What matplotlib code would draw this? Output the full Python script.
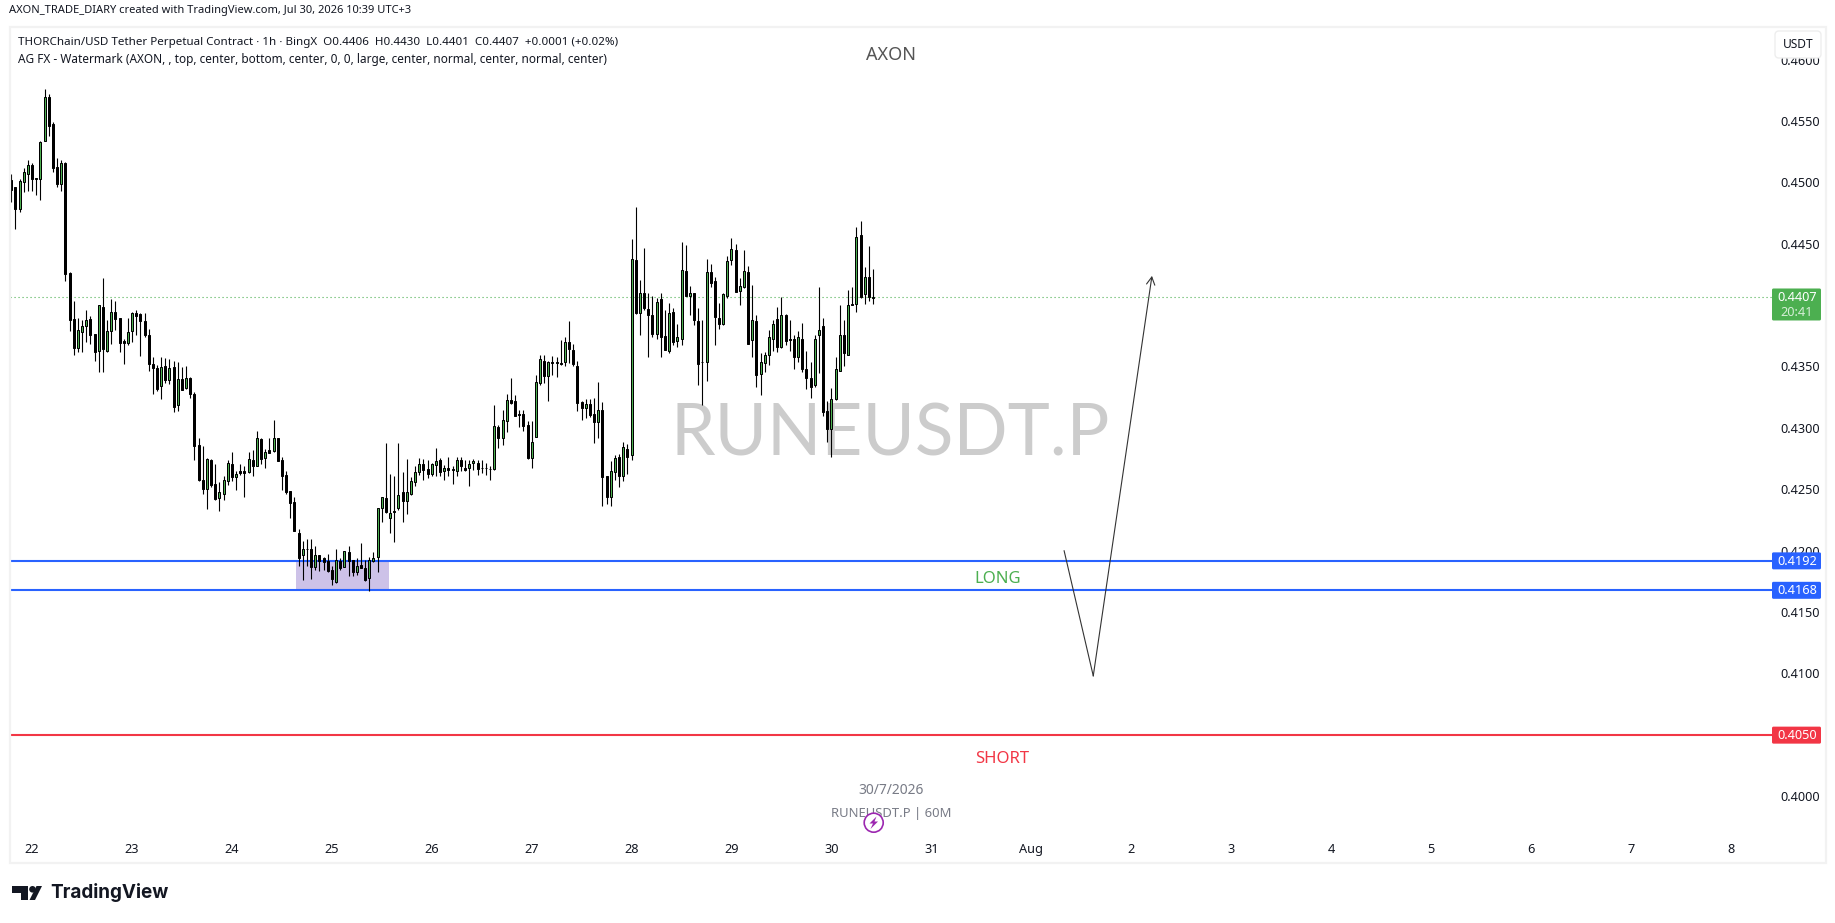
import matplotlib
matplotlib.use("Agg")
import matplotlib.pyplot as plt
from matplotlib.patches import Rectangle, FancyBboxPatch, Circle, Polygon
from matplotlib.transforms import ScaledTranslation

W, H = 1835, 923

# Prices in units of 0.0001 USDT, one entry per hourly candle
opens = [
4502.4,4496.4,4479.0,4501.0,4507.5,4514.3,4503.7,4503.5,4533.9,4569.7,
4547.7,4512.7,4499.4,4516.0,4426.6,4388.8,4365.8,4378.8,4383.7,4388.8,
4376.6,4363.3,4398.6,4363.3,4379.6,4394.5,4389.7,4371.2,4369.8,4379.6,
4393.7,4392.9,4387.2,4375.8,4352.4,4348.9,4334.3,4350.5,4339.7,4349.7,
4318.8,4340.0,4332.6,4340.8,4328.0,4286.2,4257.7,4250.9,4274.2,4254.4,
4243.5,4246.8,4257.4,4270.7,4260.6,4265.0,4265.0,4264.7,4274.0,4269.6,
4291.3,4276.1,4282.4,4281.6,4291.9,4274.0,4261.7,4248.7,4239.7,4214.6,
4196.4,4201.6,4201.6,4186.6,4196.7,4194.2,4192.1,4184.5,4175.0,4192.1,
4186.6,4199.4,4192.6,4182.6,4188.5,4186.1,4177.7,4191.8,4194.8,4234.7,
4243.1,4227.1,4232.5,4234.7,4248.3,4240.4,4246.7,4255.9,4264.6,4271.1,
4266.8,4262.4,4269.8,4274.4,4264.9,4267.6,4266.8,4264.9,4274.1,4267.8,
4267.3,4271.4,4271.7,4267.6,4267.6,4267.0,4266.5,4301.3,4291.8,4305.9,
4323.0,4322.2,4311.6,4311.6,4302.6,4275.5,4293.3,4337.3,4354.7,4343.0,
4353.9,4353.9,4353.3,4353.9,4370.2,4363.7,4350.6,4321.3,4316.9,4319.7,
4311.8,4305.5,4314.8,4261.0,4243.9,4264.8,4276.5,4260.8,4283.0,4277.9,
4437.0,4393.6,4410.2,4397.1,4392.2,4376.5,4405.3,4375.4,4362.9,4394.9,
4370.8,4372.4,4428.1,4407.4,4410.2,4387.3,4353.9,4353.7,4427.5,4419.9,
4389.8,4384.6,4407.4,4436.8,4445.2,4411.5,4415.0,4427.3,4371.9,4387.3,
4343.9,4353.1,4359.4,4372.7,4389.0,4365.9,4392.2,4372.7,4372.7,4358.5,
4372.7,4348.2,4341.2,4334.9,4375.7,4383.3,4314.0,4299.1,4323.8,4346.6,
4375.9,4359.6,4400.9,4400.9,4457.4,4409.1,4423.2,4406.0]
closes = [
4494.2,4479.0,4501.3,4508.6,4514.3,4503.5,4503.2,4533.3,4569.7,4546.6,
4512.4,4499.4,4516.5,4426.1,4388.6,4365.8,4379.9,4383.1,4388.0,4376.3,
4362.5,4400.3,4364.9,4379.1,4394.5,4389.4,4369.8,4369.8,4378.2,4393.7,
4391.8,4387.8,4376.1,4352.7,4349.5,4332.4,4349.7,4339.7,4348.9,4317.7,
4340.0,4331.5,4340.8,4328.3,4285.9,4257.9,4250.9,4275.0,4253.9,4242.7,
4247.9,4257.7,4271.5,4260.4,4262.6,4263.6,4263.6,4274.8,4269.6,4291.9,
4275.3,4280.7,4280.2,4291.9,4273.7,4261.5,4248.4,4239.5,4216.5,4194.0,
4201.6,4201.3,4186.6,4196.7,4192.1,4190.7,4183.4,4176.9,4192.6,4186.4,
4199.7,4191.5,4182.6,4187.7,4185.8,4176.6,4192.3,4194.2,4235.0,4243.9,
4231.5,4230.9,4231.5,4245.6,4240.4,4248.0,4257.0,4264.3,4270.8,4265.7,
4262.4,4270.8,4273.3,4264.0,4267.6,4265.7,4266.2,4274.1,4268.9,4265.7,
4270.8,4273.3,4266.5,4267.3,4267.3,4266.8,4301.8,4291.8,4306.4,4323.0,
4320.8,4309.7,4310.5,4301.5,4276.0,4288.8,4337.6,4356.3,4343.0,4353.9,
4353.6,4353.1,4352.8,4370.2,4365.0,4352.0,4321.0,4316.9,4319.7,4311.0,
4305.5,4314.8,4260.7,4243.7,4265.1,4275.7,4260.8,4284.7,4276.5,4437.9,
4393.6,4410.2,4397.9,4392.0,4376.5,4402.8,4374.8,4363.4,4393.9,4370.0,
4374.3,4428.9,4407.4,4410.2,4387.9,4352.8,4353.7,4427.3,4418.8,4391.1,
4384.6,4409.3,4436.2,4446.0,4410.7,4415.9,4428.1,4368.3,4388.2,4343.1,
4353.9,4359.6,4374.3,4384.9,4365.9,4392.2,4370.8,4371.6,4357.7,4374.3,
4348.2,4340.6,4333.8,4372.7,4380.0,4313.5,4299.1,4323.5,4348.2,4375.9,
4361.0,4400.4,4400.4,4455.8,4406.9,4423.2,4406.9,4407.0]
highs = [
4507.3,4496.9,4502.9,4511.9,4518.7,4516.0,4503.7,4533.9,4576.5,4572.4,
4549.4,4520.0,4518.7,4517.0,4427.4,4403.8,4390.2,4388.3,4396.4,4391.6,
4376.9,4400.5,4422.5,4388.3,4405.4,4403.8,4389.9,4372.5,4389.7,4394.5,
4396.4,4393.7,4393.7,4380.7,4357.9,4351.6,4358.2,4357.1,4356.3,4354.9,
4353.8,4350.3,4350.8,4341.6,4329.9,4291.9,4285.6,4275.6,4275.0,4270.7,
4256.3,4261.2,4274.2,4280.5,4265.5,4270.7,4269.3,4280.5,4282.4,4297.9,
4292.4,4282.9,4291.9,4306.8,4291.9,4276.9,4265.0,4249.0,4243.8,4217.9,
4208.4,4209.7,4210.0,4204.0,4197.0,4194.8,4197.5,4188.0,4201.9,4194.2,
4199.7,4203.8,4192.9,4194.2,4206.7,4192.9,4195.1,4199.1,4235.0,4243.9,
4287.9,4263.0,4260.8,4287.9,4264.6,4275.2,4260.2,4268.9,4275.5,4274.9,
4274.4,4271.7,4283.9,4275.7,4270.3,4276.5,4268.9,4276.5,4276.5,4274.4,
4274.4,4275.2,4273.8,4274.4,4271.7,4268.9,4319.2,4302.9,4315.1,4328.1,
4340.9,4326.8,4315.1,4315.1,4305.6,4305.6,4343.6,4359.9,4359.9,4355.0,
4359.0,4357.7,4372.1,4374.5,4387.6,4368.8,4355.0,4322.6,4324.0,4324.0,
4324.8,4337.9,4321.3,4261.3,4273.5,4278.4,4279.2,4288.7,4287.1,4454.2,
4480.2,4421.0,4446.8,4410.2,4407.4,4406.1,4410.2,4396.6,4402.0,4397.9,
4384.9,4451.4,4449.5,4415.6,4410.4,4397.9,4388.4,4437.9,4434.1,4422.9,
4402.0,4410.2,4440.0,4455.0,4450.1,4422.4,4445.5,4431.9,4416.9,4392.5,
4361.3,4361.8,4380.3,4388.4,4398.7,4406.9,4393.3,4388.4,4376.2,4378.9,
4385.7,4363.2,4353.9,4375.7,4415.0,4389.8,4321.9,4332.7,4358.0,4400.6,
4388.4,4412.3,4415.0,4463.9,4469.1,4431.6,4448.7,4430.0]
lows = [
4484.7,4462.7,4476.6,4492.9,4493.7,4493.7,4490.1,4486.1,4533.9,4538.5,
4509.2,4496.4,4493.7,4420.3,4379.6,4359.8,4362.2,4362.2,4370.6,4368.7,
4354.9,4346.2,4346.2,4362.2,4368.7,4380.2,4362.2,4352.4,4368.2,4370.4,
4376.1,4359.2,4374.7,4347.0,4328.0,4330.4,4323.9,4337.2,4335.9,4313.6,
4314.4,4331.3,4332.1,4325.0,4274.2,4257.1,4246.3,4234.6,4252.5,4241.6,
4232.9,4241.6,4254.1,4257.4,4249.8,4262.3,4244.4,4263.9,4261.5,4269.6,
4271.0,4267.7,4280.2,4281.0,4273.7,4249.8,4246.3,4227.0,4216.0,4187.5,
4176.0,4187.5,4177.4,4184.7,4183.9,4184.7,4183.1,4172.5,4173.9,4184.7,
4186.6,4179.3,4179.3,4180.1,4185.8,4175.5,4167.1,4190.7,4182.6,4223.3,
4230.9,4214.6,4207.0,4233.6,4223.3,4230.4,4245.8,4252.6,4262.1,4258.1,
4259.4,4260.8,4260.8,4261.3,4258.1,4260.8,4254.8,4260.8,4264.9,4264.9,
4253.2,4266.2,4262.1,4263.5,4262.1,4258.1,4266.2,4283.6,4286.6,4297.2,
4320.0,4309.7,4301.0,4297.5,4274.9,4267.8,4293.3,4335.4,4337.3,4322.4,
4343.6,4342.2,4351.2,4350.4,4353.1,4350.4,4314.5,4306.9,4308.8,4309.6,
4288.4,4291.7,4237.1,4238.5,4236.3,4257.5,4251.8,4256.7,4262.9,4273.8,
4393.3,4375.7,4396.6,4357.7,4374.8,4372.7,4358.5,4363.4,4361.3,4368.1,
4365.9,4368.1,4407.4,4392.5,4383.8,4334.9,4318.6,4338.2,4415.0,4367.5,
4380.8,4384.3,4405.8,4432.7,4410.7,4400.6,4414.2,4368.3,4358.5,4333.3,
4326.8,4345.8,4351.2,4362.6,4362.1,4365.3,4368.1,4362.6,4348.5,4353.7,
4345.8,4332.2,4325.1,4333.3,4345.0,4309.7,4288.5,4276.3,4323.2,4346.3,
4350.4,4359.6,4400.4,4394.4,4406.1,4401.5,4403.4,4401.0]
assert len(opens) == len(closes) == len(highs) == len(lows) == 208

price_ticks = [0.400, 0.405, 0.410, 0.415, 0.420, 0.425, 0.430, 0.435, 0.440, 0.445, 0.450, 0.455, 0.460]
tick_text = ["0.4000", "", "0.4100", "0.4150", "0.4200", "0.4250", "0.4300", "0.4350", "",
             "0.4450", "0.4500", "0.4550", "0.4600"]
day_hours = [5, 29, 53, 77, 101, 125, 149, 173, 197, 221, 245, 269, 293, 317, 341, 365, 389, 413]
day_labels = ["22", "23", "24", "25", "26", "27", "28", "29", "30", "31",
              "Aug", "2", "3", "4", "5", "6", "7", "8"]

last_price = 0.4407
zone_top, zone_bottom = 0.4192, 0.4168
short_level = 0.4050
zone_hours = (68.4, 90.7)
path_hours = [252.9, 259.9, 274.0]
path_prices = [0.42002, 0.40983, 0.44242]

GREEN = "#4caf50"
BLUE = "#2962ff"
RED = "#f23645"
FONT = "Noto Sans"
plt.rcParams["font.family"] = [FONT, "DejaVu Sans"]

fig = plt.figure(figsize=(W / 100, H / 100), dpi=100, facecolor="white")

# main price pane; pixel placement: left 10, right 1773, top 27, bottom 825
L, R, T, B = 10, 1773, 27, 825
ax = fig.add_axes([L / W, 1 - B / H, (R - L) / W, (B - T) / H])
PX_PER_UNIT = 12273.0
ZERO_PX = 796.5
ax.set_ylim(0.40 - (B - ZERO_PX) / PX_PER_UNIT, 0.40 + (ZERO_PX - T) / PX_PER_UNIT)
HOUR_PX = 4.163
ax.set_xlim((L - 11.3) / HOUR_PX, (R - 11.3) / HOUR_PX)
for s in ax.spines.values():
    s.set_visible(False)
ax.set_facecolor("none")

ax.text(890 / W, 1 - 429 / H, "RUNEUSDT.P", transform=fig.transFigure, ha="center",
        va="center_baseline", fontsize=51.3, color="#cccccc", zorder=0, family="Lato")

ax.add_patch(Rectangle((zone_hours[0], zone_bottom), zone_hours[1] - zone_hours[0],
                       zone_top - zone_bottom, fc="#cdc2e8", ec="none", zorder=1))
ax.axhline(last_price, color=GREEN, lw=0.8, ls=(0, (1, 2.6)), zorder=1.5)
ax.axhline(zone_top, color=BLUE, lw=1.5, zorder=1.6)
ax.axhline(zone_bottom, color=BLUE, lw=1.5, zorder=1.6)
ax.axhline(short_level, color=RED, lw=1.5, zorder=1.6)

for i, (o, h, l, c) in enumerate(zip(opens, highs, lows, closes)):
    o, h, l, c = o / 1e4, h / 1e4, l / 1e4, c / 1e4
    ax.vlines(i, l, h, color="black", lw=0.8, zorder=2)
    up = c >= o
    ax.add_patch(Rectangle((i - 0.24, min(o, c)), 0.48, max(abs(c - o), 1e-5),
                           fc=GREEN if up else "black", ec="black", lw=0.72, zorder=3))

ax.plot(path_hours[:2], path_prices[:2], color="#333333", lw=0.8, zorder=5)
ax.annotate("", xy=(path_hours[2], path_prices[2]), xytext=(path_hours[1], path_prices[1]),
            arrowprops=dict(arrowstyle="->,head_length=0.55,head_width=0.3", color="#333333",
                            lw=0.8, shrinkA=0, shrinkB=0), zorder=5)

ax.yaxis.tick_right()
ax.set_yticks(price_ticks)
ax.set_yticklabels(tick_text, fontsize=9.1, color="#131722", va="center")
ax.tick_params(axis="y", length=0, pad=5)
nudge = ScaledTranslation(0, -1 / 100, fig.dpi_scale_trans)
for lbl in ax.get_yticklabels():
    lbl.set_transform(lbl.get_transform() + nudge)
ax.get_yticklabels()[tick_text.index("0.4500")].set_fontweight("bold")
ax.set_xticks(day_hours)
ax.set_xticklabels(day_labels, fontsize=9.2, color="#131722")
ax.tick_params(axis="x", length=0, pad=13)
ax.get_xticklabels()[day_labels.index("Aug")].set_fontweight("bold")

# overlay in pixel coordinates for the page furniture
ov = fig.add_axes([0, 0, 1, 1], facecolor="none")
ov.set_xlim(0, W)
ov.set_ylim(H, 0)
ov.axis("off")

ov.add_patch(Rectangle((9.5, 26.5), 1816, 836, fc="none", ec="#f2f2f2", lw=1.6))

ov.text(9, 10.5, "AXON_TRADE_DIARY created with TradingView.com, Jul 30, 2026 10:39 UTC+3",
        fontsize=8.0, color="#131722", va="center", ha="left")
ov.text(18, 42, "THORChain/USD Tether Perpetual Contract · 1h · BingX  O0.4406  H0.4430  L0.4401  C0.4407  +0.0001 (+0.02%)",
        fontsize=8.35, color="#131722", va="center", ha="left")
ov.text(18, 59.5, "AG FX - Watermark (AXON, , top, center, bottom, center, 0, 0, large, center, normal, center, normal, center)",
        fontsize=8.5, color="#131722", va="center", ha="left")
ov.text(891, 55, "AXON", fontsize=13, color="#555555", ha="center", va="center")
ov.text(998, 579, "LONG", fontsize=12, color=GREEN, ha="center", va="center")
ov.text(1002, 759, "SHORT", fontsize=12, color=RED, ha="center", va="center")
ov.text(891, 790, "30/7/2026", fontsize=10, color="#787b86", ha="center", va="center")
ov.text(891.7, 814, "RUNEUSDT.P | 60M", fontsize=9.4, color="#787b86", ha="center", va="center")

# lightning badge
ov.add_patch(Circle((873.7, 822.7), 9.5, fc="white", ec="#9c27b0", lw=1.2, zorder=5))
ov.add_patch(Polygon([(876.5, 816.5), (869.5, 823.5), (873, 823.5), (870.5, 829), (878, 821.5), (874.5, 821.5)],
                     closed=True, fc="#9c27b0", ec="none", zorder=6))

# USDT button
ov.add_patch(FancyBboxPatch((1777, 33), 42, 23, boxstyle="round,pad=2,rounding_size=4",
                            fc="white", ec="#eeeeee", lw=1, zorder=5))
ov.text(1798, 44.5, "USDT", fontsize=8.6, color="#131722", ha="center", va="center", zorder=6)


def price_px(p):
    return H - ax.transData.transform((0, p))[1]


def tag(p, color, label):
    y = price_px(p)
    ov.add_patch(FancyBboxPatch((1772.5, y - 8), 48, 16, boxstyle="round,pad=0.5,rounding_size=1.5",
                                fc=color, ec="none", zorder=7))
    ov.text(1797, y + 0.5, label, fontsize=9.2, color="white", ha="center", va="center",
            fontweight="bold", zorder=8)


tag(zone_top, BLUE, f"{zone_top:.4f}")
tag(zone_bottom, BLUE, f"{zone_bottom:.4f}")
tag(short_level, RED, f"{short_level:.4f}")

y = price_px(last_price)
ov.add_patch(FancyBboxPatch((1772.5, y - 8), 48, 31, boxstyle="round,pad=0.5,rounding_size=1.5",
                            fc=GREEN, ec="none", zorder=7))
ov.text(1797, y + 0.5, f"{last_price:.4f}", fontsize=9.2, color="white", ha="center", va="center",
        fontweight="bold", zorder=8)
ov.text(1797, y + 15.5, "20:41", fontsize=9.2, color="#d5eed6", ha="center", va="center", zorder=8)

# TradingView wordmark
ov.add_patch(Polygon([(12, 886), (28, 886), (28, 900), (21, 900), (21, 892.5), (12, 892.5)],
                     closed=True, fc="#131722", ec="none"))
ov.add_patch(Circle((32.5, 889.3), 3.3, fc="#131722", ec="none"))
ov.add_patch(Polygon([(35, 900), (42, 886), (36.5, 886), (29.5, 900)], closed=True, fc="#131722", ec="none"))
ov.text(50, 893, "TradingView", fontsize=13.6, color="#131722", fontweight="bold", family="Inter",
        ha="left", va="center")

fig.savefig("out.png", dpi=100)
